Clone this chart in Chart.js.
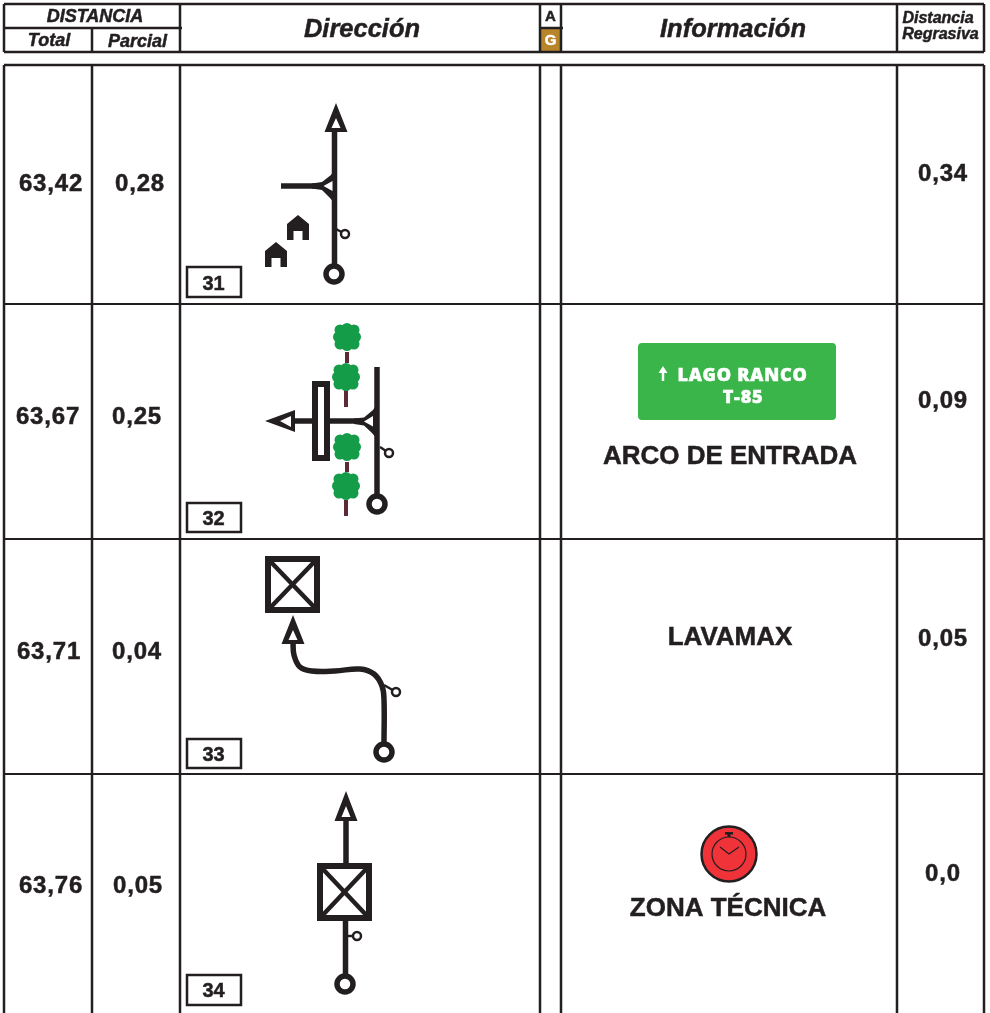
<!DOCTYPE html>
<html lang="es">
<head>
<meta charset="utf-8">
<title>Libro de ruta</title>
<script src="https://cdn.jsdelivr.net/npm/chart.js@4/dist/chart.umd.js"></script>
<style>
    html, body { margin: 0; padding: 0; background: #ffffff; overflow: hidden; }
    #wrap { position: relative; width: 990px; height: 1013px; }
</style>
</head>
<body>
<div id="wrap"><canvas id="roadbook"></canvas></div>
<script>
// Table contents
const rowNumbers = ['31', '32', '33', '34'];
const totals = ['63,42', '63,67', '63,71', '63,76'];
const partials = ['0,28', '0,25', '0,04', '0,05'];
const remaining = ['0,34', '0,09', '0,05', '0,0'];

// Table rules, in page units
const columnRules = [4, 92, 180, 540, 561, 897, 984];
const rowRules = [65, 304, 539, 774];

// Roads, in page units
const road31 = [[334.5, 132], [334.5, 266]];
const branch31 = [[281, 186], [316, 186]];
const road32 = [[377, 367], [377, 496]];
const branch32 = [[295, 421], [358, 421]];
const road33 = [[293, 643], [294, 655], [300, 667], [312, 671], [335, 671], [360, 669], [374, 674], [382, 686], [384, 700], [384, 744]];
const road34Top = [[346, 821], [346, 864]];
const road34Bottom = [[345.5, 920], [345.5, 976]];

const white = '#ffffff';
const ink = '#231f20';
const roadWidth = 5.5;
const datasets = [];

function line(points, width, color) {
    datasets.push({
        type: 'line',
        data: points.map(p => ({ x: p[0], y: p[1] })),
        borderColor: color || ink,
        borderWidth: width,
        pointRadius: 0,
        fill: false,
        clip: false
    });
}

// Closed shape, optional outline
function shape(points, color, outline, width, join) {
    const closed = points.concat([points[0], points[1]]);
    datasets.push({
        type: 'line',
        data: closed.map(p => ({ x: p[0], y: p[1] })),
        borderColor: outline || color,
        borderWidth: width || 0,
        borderJoinStyle: join || 'miter',
        backgroundColor: color,
        pointRadius: 0,
        fill: 'shape',
        clip: false
    });
}

function dots(points, radius, fillColor, strokeColor, strokeWidth) {
    datasets.push({
        type: 'scatter',
        data: points.map(p => ({ x: p[0], y: p[1] })),
        pointRadius: radius,
        pointBackgroundColor: fillColor,
        pointBorderColor: strokeColor || fillColor,
        pointBorderWidth: strokeWidth || 0,
        showLine: false,
        clip: false
    });
}

function arrowUp(x, tip, base) {
    shape([[x, tip], [x + 11.5, base], [x - 11.5, base]], ink);
    shape([[x, tip + 15], [x + 4.5, base - 4], [x - 4.5, base - 4]], white);
}

function squareX(left, top, right, bottom) {
    shape([[left + 3, top + 3], [right - 3, top + 3], [right - 3, bottom - 3], [left + 3, bottom - 3]], white, ink, 6);
    line([[left + 3, top + 3], [right - 3, bottom - 3]], 4.5);
    line([[right - 3, top + 3], [left + 3, bottom - 3]], 4.5);
}

function house(x, top) {
    shape([[x, top], [x + 11, top + 9], [x + 11, top + 25], [x - 11, top + 25], [x - 11, top + 9]], ink);
    shape([[x - 4.5, top + 16], [x + 4.5, top + 16], [x + 4.5, top + 25], [x - 4.5, top + 25]], white);
}

function tree(x, y, trunkTop, trunkBottom) {
    line([[x, trunkTop], [x, trunkBottom]], 4, '#5b2b35');
    const lobes = [[-7, -7], [0, -8.5], [7, -7], [-8.5, 0], [8.5, 0], [-7, 7], [0, 8.5], [7, 7]];
    dots(lobes.map(o => [x + o[0], y + o[1]]), 5.5, '#159c48');
    dots([[x, y]], 9, '#159c48');
}

function numberBox(top, bottom) {
    shape([[187, top], [241, top], [241, bottom], [187, bottom]], white, ink, 2.5);
}

function smallCircle(x, y, fromX, fromY) {
    line([[fromX, fromY], [x, y]], 2.5);
    dots([[x, y]], 4, white, ink, 2.5);
}

// 1. Table frame
shape([[540, 28], [561, 28], [561, 52], [540, 52]], '#b8862a');
[[4, 984, 4], [4, 182, 28], [540, 563, 28], [4, 984, 52]].forEach(r => line([[r[0], r[2]], [r[1], r[2]]], 2.5));
line([[4, 4], [4, 52]], 2.5);
line([[92, 28], [92, 52]], 2.5);
[180, 540, 561, 897, 984].forEach(x => line([[x, 4], [x, 52]], 2.5));
rowRules.forEach((y, i) => line([[4, y], [984, y]], i === 0 ? 2.5 : 2));
columnRules.forEach(x => line([[x, 65], [x, 1013]], 2.5));

// 2. Row 31
line(road31, roadWidth);
line(branch31, roadWidth);
shape([[312, 183.5], [322, 182], [331, 175], [335, 168], [335, 204], [330, 198], [322, 190], [312, 188.5]], ink);
shape([[323.5, 186], [332.5, 181], [332.5, 191]], white);
arrowUp(336, 103, 132);
smallCircle(345, 234, 336, 229);
dots([[334, 274]], 8, white, ink, 5.5);
house(298, 215);
house(276, 242);
numberBox(267, 297);

// 3. Row 32
tree(347, 337, 352, 363);
tree(346, 377, 390, 407);
tree(347, 447, 462, 472);
tree(346, 486, 500, 516);
line(road32, roadWidth);
line(branch32, roadWidth);
shape([[354, 418.5], [364, 417.5], [373, 410], [378, 402], [378, 440], [372, 433], [364, 425.5], [354, 424]], ink);
shape([[364, 421.5], [373, 416], [373, 426.5]], white);
shape([[265, 421], [295, 410], [295, 432]], ink);
shape([[280, 421], [291, 416], [291, 427]], white);
shape([[315, 384], [327, 384], [327, 458], [315, 458]], white, ink, 6);
smallCircle(389, 453, 380, 447);
dots([[377, 504]], 8, white, ink, 5.5);
numberBox(503, 532);

// 4. Row 33
squareX(265, 556, 320, 613);
line(road33, roadWidth);
datasets[datasets.length - 1].tension = 0.4;
arrowUp(293, 615, 644);
smallCircle(396, 692, 384, 685);
dots([[384, 752]], 8, white, ink, 5.5);
numberBox(739, 768);

// 5. Row 34
line(road34Top, roadWidth);
line(road34Bottom, roadWidth);
squareX(317, 863, 372, 921);
arrowUp(346, 791, 821);
smallCircle(357, 936, 346, 936);
dots([[345, 984]], 8, white, ink, 5.5);
numberBox(975, 1005);

// 6. Information column: road sign and stopwatch
shape([[642, 347], [832, 347], [832, 416], [642, 416]], '#39b54a', '#39b54a', 8, 'round');
line([[663, 372], [663, 381]], 2.5, white);
shape([[663, 366], [667.5, 373], [658.5, 373]], white);
dots([[729, 854]], 27.5, '#ef3338', ink, 2.5);
dots([[729, 854]], 17, 'rgba(0,0,0,0)', ink, 1.2);
line([[720, 847], [729, 854], [739, 847]], 1.2);
shape([[725, 832], [733, 832], [733, 834.5], [730.5, 834.5], [730.5, 837], [727.5, 837], [727.5, 834.5], [725, 834.5]], ink);

datasets.forEach((d, i) => { d.order = -i; });

// Real text, placed through the same scales as the marks
const rowNumberY = [284, 519, 755, 991];
const totalX = [51, 48, 49, 51];
const totalY = [184, 417, 652, 886];
const partialX = [140, 137, 137, 138];
const remainingY = [174, 401, 639, 874];
const labels = [
    ['DISTANCIA', 95, 17, 'italic bold 18px'],
    ['Total', 49, 41, 'italic bold 18px'],
    ['Parcial', 137.5, 42, 'italic bold 18px'],
    ['Dirección', 362, 30, 'italic bold 25.5px'],
    ['A', 550.5, 17, 'bold 15px'],
    ['G', 550.5, 41, 'bold 15px', white],
    ['Información', 733, 30, 'italic bold 25.5px'],
    ['Distancia', 938, 18.5, 'italic bold 16px'],
    ['Regrasiva', 940.5, 34.5, 'italic bold 16px'],
    ['LAGO RANCO', 742.5, 376, '800 18px', white, 'Open Sans', '0.8px'],
    ['T-85', 743, 398, '800 18px', white, 'Open Sans', '0.8px'],
    ['ARCO DE ENTRADA', 730, 457, 'bold 26px'],
    ['LAVAMAX', 730, 637.5, 'bold 26px'],
    ['ZONA TÉCNICA', 728, 909, 'bold 26px']
];
rowNumbers.forEach((t, i) => labels.push([t, 213.5, rowNumberY[i], 'bold 20px']));
totals.forEach((t, i) => labels.push([t, totalX[i], totalY[i], 'bold 24px', ink, null, '0.8px']));
partials.forEach((t, i) => labels.push([t, partialX[i], totalY[i], 'bold 24px', ink, null, '0.8px']));
remaining.forEach((t, i) => labels.push([t, 943, remainingY[i], 'bold 24px', ink, null, '0.8px']));

const textPlugin = {
    id: 'tableText',
    afterDatasetsDraw(chart) {
        const { ctx, scales } = chart;
        ctx.save();
        ctx.textAlign = 'center';
        ctx.textBaseline = 'middle';
        labels.forEach(l => {
            const px = scales.x.getPixelForValue(l[1]);
            const py = scales.y.getPixelForValue(l[2]);
            ctx.font = l[3] + ' "' + (l[5] || 'Liberation Sans') + '", sans-serif';
            ctx.fillStyle = l[4] || ink;
            ctx.letterSpacing = l[6] || '0px';
            // The print is a little heavier than the installed bold
            ctx.strokeStyle = ctx.fillStyle;
            ctx.lineWidth = 0.5;
            ctx.strokeText(l[0], px, py);
            ctx.fillText(l[0], px, py);
        });
        ctx.restore();
    }
};

new Chart(document.getElementById('roadbook'), {
    type: 'scatter',
    data: { datasets: datasets },
    plugins: [textPlugin],
    options: {
        responsive: true,
        maintainAspectRatio: false,
        animation: false,
        events: [],
        layout: { padding: 0, autoPadding: false },
        plugins: {
            legend: { display: false },
            tooltip: { enabled: false }
        },
        scales: {
            x: { type: 'linear', min: 0, max: 990, display: false },
            y: { type: 'linear', min: 0, max: 1013, reverse: true, display: false }
        }
    }
});
</script>
</body>
</html>
